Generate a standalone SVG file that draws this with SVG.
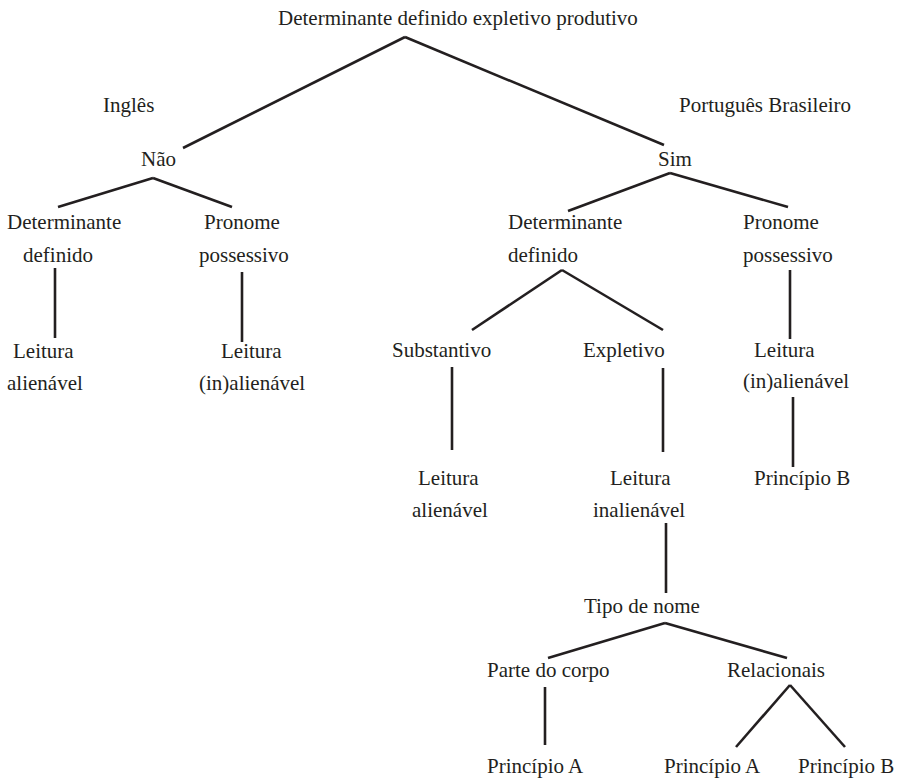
<svg xmlns="http://www.w3.org/2000/svg" width="898" height="778" viewBox="0 0 898 778">
<style>
text{font-family:"Liberation Serif","Times New Roman",serif;font-size:21px;fill:#231f20}
line{stroke:#231f20;stroke-width:2.6;stroke-linecap:butt}
</style>
<rect width="898" height="778" fill="#fff"/>
<g id="connectors">
<line x1="405" y1="37" x2="183" y2="148"/>
<line x1="405" y1="37" x2="664" y2="145"/>
<line x1="153" y1="178" x2="58" y2="207"/>
<line x1="153" y1="178" x2="232" y2="207"/>
<line x1="670" y1="173" x2="568" y2="211"/>
<line x1="670" y1="173" x2="788" y2="207"/>
<line x1="55" y1="268" x2="55" y2="338"/>
<line x1="242" y1="272" x2="242" y2="342"/>
<line x1="562" y1="270" x2="472" y2="330"/>
<line x1="562" y1="270" x2="663" y2="330"/>
<line x1="790" y1="270" x2="790" y2="339"/>
<line x1="793" y1="397" x2="793" y2="467"/>
<line x1="452" y1="367" x2="452" y2="450"/>
<line x1="663" y1="368" x2="663" y2="452"/>
<line x1="666" y1="523" x2="666" y2="593"/>
<line x1="665" y1="623" x2="548" y2="658"/>
<line x1="665" y1="623" x2="787" y2="658"/>
<line x1="545" y1="687" x2="545" y2="745"/>
<line x1="790" y1="685" x2="736" y2="747"/>
<line x1="790" y1="685" x2="845" y2="747"/>
</g>
<g id="root"><text x="278" y="25">Determinante definido expletivo produtivo</text></g>
<g id="ingles"><text x="103" y="112">Inglês</text></g>
<g id="pb"><text x="679" y="112">Português Brasileiro</text></g>
<g id="nao"><text x="141" y="166">Não</text></g>
<g id="sim"><text x="658" y="166">Sim</text></g>
<g id="en-det"><text x="7" y="229">Determinante</text><text x="23" y="262">definido</text></g>
<g id="en-pron"><text x="204" y="229">Pronome</text><text x="199" y="262">possessivo</text></g>
<g id="en-leit-al"><text x="13" y="358">Leitura</text><text x="7" y="390">alienável</text></g>
<g id="en-leit-inal"><text x="221" y="358">Leitura</text><text x="199" y="390">(in)alienável</text></g>
<g id="pb-det"><text x="508" y="229">Determinante</text><text x="508" y="262">definido</text></g>
<g id="pb-pron"><text x="743" y="229">Pronome</text><text x="743" y="262">possessivo</text></g>
<g id="pb-subst"><text x="392" y="357">Substantivo</text></g>
<g id="pb-expl"><text x="583" y="357">Expletivo</text></g>
<g id="pb-leit-inal-pron"><text x="754" y="357">Leitura</text><text x="743" y="388">(in)alienável</text></g>
<g id="pb-princ-b"><text x="754" y="485">Princípio B</text></g>
<g id="pb-leit-al"><text x="418" y="485">Leitura</text><text x="412" y="517">alienável</text></g>
<g id="pb-leit-inal"><text x="610" y="485">Leitura</text><text x="593" y="517">inalienável</text></g>
<g id="tipo"><text x="584" y="613">Tipo de nome</text></g>
<g id="parte"><text x="487" y="677">Parte do corpo</text></g>
<g id="relac"><text x="727" y="677">Relacionais</text></g>
<g id="pa1"><text x="487" y="773">Princípio A</text></g>
<g id="pa2"><text x="664" y="773">Princípio A</text></g>
<g id="pb2"><text x="798" y="773">Princípio B</text></g>
</svg>
